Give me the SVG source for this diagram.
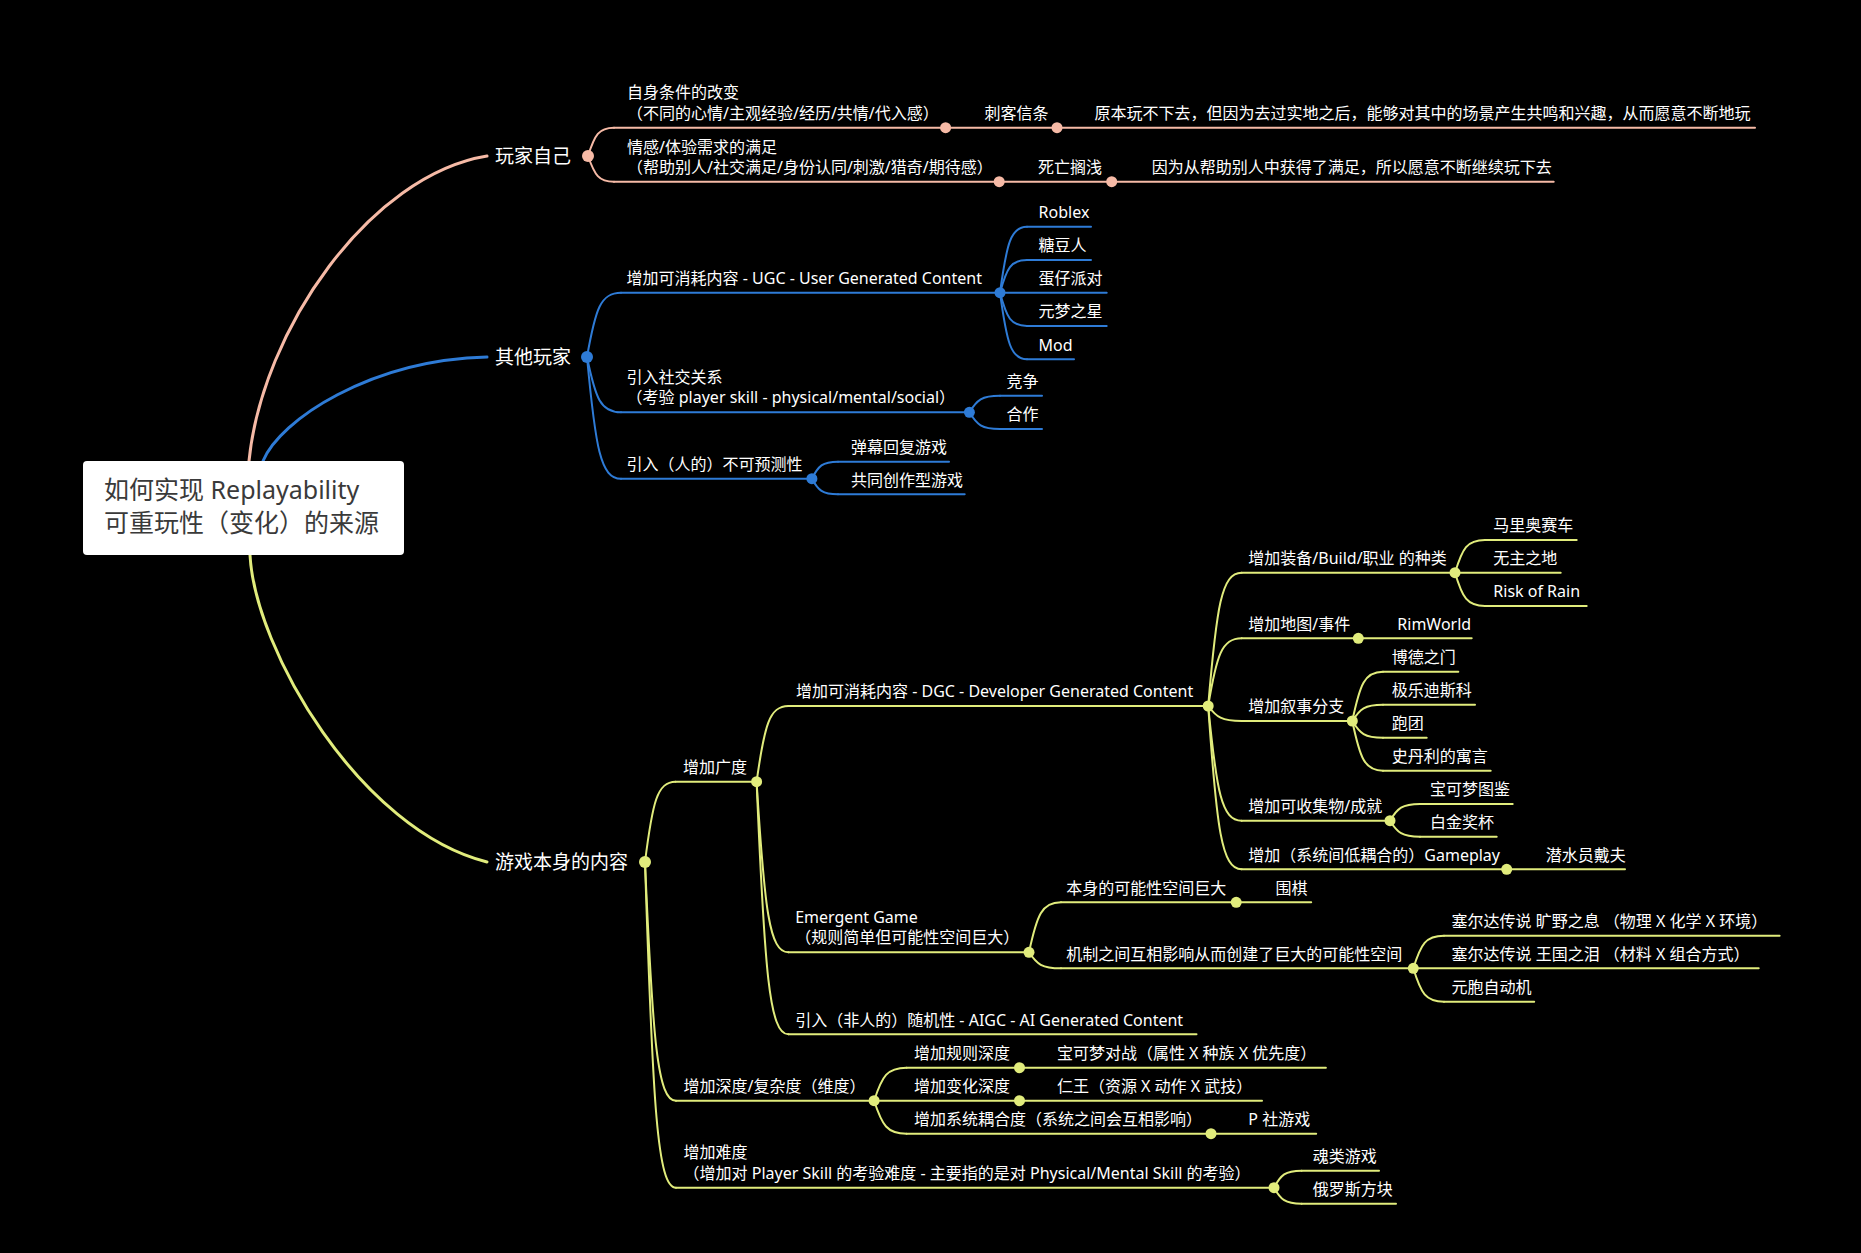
<svg xmlns="http://www.w3.org/2000/svg" width="1861" height="1253" viewBox="0 0 1861 1253">
<style>
text{font-family:"Noto Sans","Noto Sans CJK SC",sans-serif;fill:#ffffff;font-size:16px}
.tm{font-size:19px}
.tr{font-size:25px;fill:#3a3a3a}
path{fill:none;stroke-width:2;stroke-linecap:round}
.pk{stroke:#F6BAA6}
.bl{stroke:#2E7BD6}
.yl{stroke:#E1EC7C}
.main{stroke-width:3}
.dpk{fill:#F6BAA6}
.dbl{fill:#2E7BD6}
.dyl{fill:#E1EC7C}
</style>
<rect width="1861" height="1253" fill="#000000"/>

<g id="connectors">
<path class="pk main" d="M249 461 C262 330,370 175,487 156"/>
<path class="bl main" d="M263 461 C280 420,370 360,487 357"/>
<path class="yl main" d="M250 555 C255 650,360 830,487 862"/>

<path class="pk" d="M588 156 C594.75 134.8,598.8 127.7,614 127.7"/>
<path class="pk" d="M588 156 C594.75 175.3,598.8 181.7,614 181.7"/>

<path class="bl" d="M587 357 C595.5 308.8,600.6 292.7,621 292.7"/>
<path class="bl" d="M587 357 C595.5 398.5,600.6 412.3,621 412.3"/>
<path class="bl" d="M587 357 C595.5 448.3,600.6 478.7,621 478.7"/>
<path class="bl" d="M1000 292.7 C1006.75 243.2,1010.8 226.7,1027 226.7"/>
<path class="bl" d="M1000 292.7 C1006.75 268.2,1010.8 260,1027 260"/>
<path class="bl" d="M1000 292.7 C1006.75 317.7,1010.8 326,1027 326"/>
<path class="bl" d="M1000 292.7 C1006.75 342.65,1010.8 359.3,1027 359.3"/>
<path class="bl" d="M969.4 412.3 C977.05 399.85,981.6 395.7,1000 395.7"/>
<path class="bl" d="M969.4 412.3 C977.05 424.8,981.6 429,1000 429"/>
<path class="bl" d="M811.9 478.7 C818.4 465.95,822.3 461.7,838 461.7"/>
<path class="bl" d="M811.9 478.7 C818.4 490.4,822.3 494.3,838 494.3"/>

<path class="yl" d="M645 862 C652.6 801.8,657.2 781.7,675.5 781.7"/>
<path class="yl" d="M645 862 C652.75 1041,657.4 1100.7,676 1100.7"/>
<path class="yl" d="M645 862 C652.75 1106.3,657.4 1187.7,676 1187.7"/>
<path class="yl" d="M756.6 781.7 C764.55 724.9,769.3 706,788.4 706"/>
<path class="yl" d="M756.6 781.7 C764.55 909.65,769.3 952.3,788.4 952.3"/>
<path class="yl" d="M756.6 781.7 C764.55 971.15,769.3 1034.3,788.4 1034.3"/>
<path class="yl" d="M1208.2 706 C1216.6 606,1221.6 572.7,1241.7 572.7"/>
<path class="yl" d="M1208.2 706 C1216.6 655.2,1221.6 638.3,1241.7 638.3"/>
<path class="yl" d="M1208.2 706 C1216.6 717.25,1221.6 721,1241.7 721"/>
<path class="yl" d="M1208.2 706 C1216.6 792,1221.6 820.7,1241.7 820.7"/>
<path class="yl" d="M1208.2 706 C1216.6 828.5,1221.6 869.3,1241.7 869.3"/>
<path class="yl" d="M1455 572.7 C1462.5 548.2,1467 540,1485 540"/>
<path class="yl" d="M1455 572.7 C1462.5 597.7,1467 606,1485 606"/>
<path class="yl" d="M1352.3 721 C1360 684,1364.6 671.7,1383 671.7"/>
<path class="yl" d="M1352.3 721 C1360 708.8,1364.6 704.7,1383 704.7"/>
<path class="yl" d="M1352.3 721 C1360 733.5,1364.6 737.7,1383 737.7"/>
<path class="yl" d="M1352.3 721 C1360 758.3,1364.6 770.7,1383 770.7"/>
<path class="yl" d="M1390 820.7 C1397.5 808.2,1402 804,1420 804"/>
<path class="yl" d="M1390 820.7 C1397.5 832.7,1402 836.7,1420 836.7"/>
<path class="yl" d="M1029 952.3 C1037 914.8,1041.8 902.3,1061 902.3"/>
<path class="yl" d="M1029 952.3 C1037 964.3,1041.8 968.3,1061 968.3"/>
<path class="yl" d="M1413.3 968.3 C1421 943.85,1425.6 935.7,1444 935.7"/>
<path class="yl" d="M1413.3 968.3 C1421 993.35,1425.6 1001.7,1444 1001.7"/>
<path class="yl" d="M874.1 1100.7 C882.2 1075.95,887.1 1067.7,906.6 1067.7"/>
<path class="yl" d="M874.1 1100.7 C882.2 1125.45,887.1 1133.7,906.6 1133.7"/>
<path class="yl" d="M1274 1187.7 C1280.9 1174.95,1285 1170.7,1301.6 1170.7"/>
<path class="yl" d="M1274 1187.7 C1280.9 1199.7,1285 1203.7,1301.6 1203.7"/>
</g>

<g id="root">
<rect x="83" y="461" width="321" height="94" rx="4" fill="#ffffff"/>
<text class="tr" x="104" y="499">如何实现 Replayability</text>
<text class="tr" x="104" y="532">可重玩性（变化）的来源</text>
</g>

<!-- pink branch -->
<g id="n-player">
<text class="tm" x="495" y="163">玩家自己</text>
<circle class="dpk" cx="588" cy="156" r="6"/>
</g>
<g id="n-p1">
<path class="pk" d="M614 127.7 H945.6"/>
<text x="627" y="98">自身条件的改变</text>
<text x="627" y="118.7">（不同的心情/主观经验/经历/共情/代入感）</text>
<circle class="dpk" cx="945.6" cy="127.7" r="5.5"/>
</g>
<g id="n-p1a">
<path class="pk" d="M945.6 127.7 H1057"/>
<text x="984.5" y="119">刺客信条</text>
<circle class="dpk" cx="1057" cy="127.7" r="5.5"/>
</g>
<g id="n-p1b">
<path class="pk" d="M1057 127.7 H1755"/>
<text x="1094.5" y="119">原本玩不下去，但因为去过实地之后，能够对其中的场景产生共鸣和兴趣，从而愿意不断地玩</text>
</g>
<g id="n-p2">
<path class="pk" d="M614 181.7 H999.2"/>
<text x="627" y="152.5">情感/体验需求的满足</text>
<text x="627" y="173">（帮助别人/社交满足/身份认同/刺激/猎奇/期待感）</text>
<circle class="dpk" cx="999.2" cy="181.7" r="5.5"/>
</g>
<g id="n-p2a">
<path class="pk" d="M999.2 181.7 H1111.7"/>
<text x="1038" y="173">死亡搁浅</text>
<circle class="dpk" cx="1111.7" cy="181.7" r="5.5"/>
</g>
<g id="n-p2b">
<path class="pk" d="M1111.7 181.7 H1553.7"/>
<text x="1151.7" y="173">因为从帮助别人中获得了满足，所以愿意不断继续玩下去</text>
</g>

<!-- blue branch -->
<g id="n-other">
<text class="tm" x="495" y="364">其他玩家</text>
<circle class="dbl" cx="587" cy="357" r="6"/>
</g>
<g id="n-ugc">
<path class="bl" d="M621 292.7 H1000"/>
<text x="626.6" y="284">增加可消耗内容 - UGC - User Generated Content</text>
<circle class="dbl" cx="1000" cy="292.7" r="5.5"/>
</g>
<g id="n-roblex">
<path class="bl" d="M1027 226.7 H1091"/>
<text x="1038.6" y="218">Roblex</text>
</g>
<g id="n-tangdou">
<path class="bl" d="M1027 260 H1091"/>
<text x="1038.6" y="251.3">糖豆人</text>
</g>
<g id="n-danzai">
<path class="bl" d="M1000 292.7 H1106.7"/>
<text x="1038.6" y="284">蛋仔派对</text>
</g>
<g id="n-yuanmeng">
<path class="bl" d="M1027 326 H1106.7"/>
<text x="1038.6" y="317.3">元梦之星</text>
</g>
<g id="n-mod">
<path class="bl" d="M1027 359.3 H1074"/>
<text x="1038.6" y="350.6">Mod</text>
</g>
<g id="n-social">
<path class="bl" d="M621 412.3 H969.4"/>
<text x="626.6" y="382.7">引入社交关系</text>
<text x="626.6" y="403.3">（考验 player skill - physical/mental/social）</text>
<circle class="dbl" cx="969.4" cy="412.3" r="5.5"/>
</g>
<g id="n-compete">
<path class="bl" d="M1000 395.7 H1042"/>
<text x="1006.6" y="387">竞争</text>
</g>
<g id="n-coop">
<path class="bl" d="M1000 429 H1042"/>
<text x="1006.6" y="420.3">合作</text>
</g>
<g id="n-unpredict">
<path class="bl" d="M621 478.7 H811.9"/>
<text x="626.6" y="470">引入（人的）不可预测性</text>
<circle class="dbl" cx="811.9" cy="478.7" r="5.5"/>
</g>
<g id="n-danmu">
<path class="bl" d="M838 461.7 H949"/>
<text x="851" y="453">弹幕回复游戏</text>
</g>
<g id="n-cocreate">
<path class="bl" d="M838 494.3 H964.7"/>
<text x="851" y="485.6">共同创作型游戏</text>
</g>

<!-- yellow branch -->
<g id="n-game">
<text class="tm" x="495" y="869">游戏本身的内容</text>
<circle class="dyl" cx="645" cy="862" r="6"/>
</g>
<g id="n-breadth">
<path class="yl" d="M675.5 781.7 H756.6"/>
<text x="683" y="773">增加广度</text>
<circle class="dyl" cx="756.6" cy="781.7" r="5.5"/>
</g>
<g id="n-dgc">
<path class="yl" d="M788.4 706 H1208.2"/>
<text x="796" y="697.3">增加可消耗内容 - DGC - Developer Generated Content</text>
<circle class="dyl" cx="1208.2" cy="706" r="5.5"/>
</g>
<g id="n-equip">
<path class="yl" d="M1241.7 572.7 H1455"/>
<text x="1248.3" y="564">增加装备/Build/职业 的种类</text>
<circle class="dyl" cx="1455" cy="572.7" r="5.5"/>
</g>
<g id="n-mario">
<path class="yl" d="M1485 540 H1576.7"/>
<text x="1493.3" y="531.3">马里奥赛车</text>
</g>
<g id="n-borderlands">
<path class="yl" d="M1455 572.7 H1560.7"/>
<text x="1493.3" y="564">无主之地</text>
</g>
<g id="n-risk">
<path class="yl" d="M1485 606 H1586.7"/>
<text x="1493.3" y="597.3">Risk of Rain</text>
</g>
<g id="n-map">
<path class="yl" d="M1241.7 638.3 H1358.3"/>
<text x="1248.3" y="629.6">增加地图/事件</text>
<circle class="dyl" cx="1358.3" cy="638.3" r="5.5"/>
</g>
<g id="n-rimworld">
<path class="yl" d="M1358.3 638.3 H1471.7"/>
<text x="1397.3" y="629.6">RimWorld</text>
</g>
<g id="n-narrative">
<path class="yl" d="M1241.7 721 H1352.3"/>
<text x="1248.3" y="712.3">增加叙事分支</text>
<circle class="dyl" cx="1352.3" cy="721" r="5.5"/>
</g>
<g id="n-bg3">
<path class="yl" d="M1383 671.7 H1458.3"/>
<text x="1391.7" y="663">博德之门</text>
</g>
<g id="n-disco">
<path class="yl" d="M1383 704.7 H1475"/>
<text x="1391.7" y="696">极乐迪斯科</text>
</g>
<g id="n-trpg">
<path class="yl" d="M1383 737.7 H1426.7"/>
<text x="1391.7" y="729">跑团</text>
</g>
<g id="n-stanley">
<path class="yl" d="M1383 770.7 H1490.7"/>
<text x="1391.7" y="762">史丹利的寓言</text>
</g>
<g id="n-collect">
<path class="yl" d="M1241.7 820.7 H1390"/>
<text x="1248.3" y="812">增加可收集物/成就</text>
<circle class="dyl" cx="1390" cy="820.7" r="5.5"/>
</g>
<g id="n-pokedex">
<path class="yl" d="M1420 804 H1512.7"/>
<text x="1430" y="795.3">宝可梦图鉴</text>
</g>
<g id="n-trophy">
<path class="yl" d="M1420 836.7 H1496.7"/>
<text x="1430" y="828">白金奖杯</text>
</g>
<g id="n-gameplay">
<path class="yl" d="M1241.7 869.3 H1506.7"/>
<text x="1248.3" y="860.6">增加（系统间低耦合的）Gameplay</text>
<circle class="dyl" cx="1506.7" cy="869.3" r="5.5"/>
</g>
<g id="n-dave">
<path class="yl" d="M1506.7 869.3 H1625"/>
<text x="1545.7" y="860.6">潜水员戴夫</text>
</g>
<g id="n-emergent">
<path class="yl" d="M788.4 952.3 H1029"/>
<text x="795.2" y="922.8">Emergent Game</text>
<text x="795.2" y="943.3">（规则简单但可能性空间巨大）</text>
<circle class="dyl" cx="1029" cy="952.3" r="5.5"/>
</g>
<g id="n-space">
<path class="yl" d="M1061 902.3 H1236.2"/>
<text x="1066.3" y="893.6">本身的可能性空间巨大</text>
<circle class="dyl" cx="1236.2" cy="902.3" r="5.5"/>
</g>
<g id="n-go">
<path class="yl" d="M1236.2 902.3 H1311.2"/>
<text x="1275.5" y="893.6">围棋</text>
</g>
<g id="n-mechanics">
<path class="yl" d="M1061 968.3 H1413.3"/>
<text x="1066.3" y="959.6">机制之间互相影响从而创建了巨大的可能性空间</text>
<circle class="dyl" cx="1413.3" cy="968.3" r="5.5"/>
</g>
<g id="n-botw">
<path class="yl" d="M1444 935.7 H1779.6"/>
<text x="1451.5" y="927">塞尔达传说 旷野之息 （物理 X 化学 X 环境）</text>
</g>
<g id="n-totk">
<path class="yl" d="M1413.3 968.3 H1758.7"/>
<text x="1451.5" y="959.6">塞尔达传说 王国之泪 （材料 X 组合方式）</text>
</g>
<g id="n-cellular">
<path class="yl" d="M1444 1001.7 H1534.2"/>
<text x="1451.5" y="993">元胞自动机</text>
</g>
<g id="n-aigc">
<path class="yl" d="M788.4 1034.3 H1196.5"/>
<text x="795.2" y="1025.6">引入（非人的）随机性 - AIGC - AI Generated Content</text>
</g>
<g id="n-depth">
<path class="yl" d="M676 1100.7 H874.1"/>
<text x="683.6" y="1092">增加深度/复杂度（维度）</text>
<circle class="dyl" cx="874.1" cy="1100.7" r="5.5"/>
</g>
<g id="n-rule">
<path class="yl" d="M906.6 1067.7 H1019.5"/>
<text x="913.9" y="1059">增加规则深度</text>
<circle class="dyl" cx="1019.5" cy="1067.7" r="5.5"/>
</g>
<g id="n-pkbattle">
<path class="yl" d="M1019.5 1067.7 H1325.9"/>
<text x="1056.9" y="1059">宝可梦对战（属性 X 种族 X 优先度）</text>
</g>
<g id="n-variation">
<path class="yl" d="M874.1 1100.7 H1019.5"/>
<text x="913.9" y="1092">增加变化深度</text>
<circle class="dyl" cx="1019.5" cy="1100.7" r="5.5"/>
</g>
<g id="n-nioh">
<path class="yl" d="M1019.5 1100.7 H1262"/>
<text x="1056.9" y="1092">仁王（资源 X 动作 X 武技）</text>
</g>
<g id="n-coupling">
<path class="yl" d="M906.6 1133.7 H1211"/>
<text x="913.9" y="1125">增加系统耦合度（系统之间会互相影响）</text>
<circle class="dyl" cx="1211" cy="1133.7" r="5.5"/>
</g>
<g id="n-paradox">
<path class="yl" d="M1211 1133.7 H1316.2"/>
<text x="1248.3" y="1125">P 社游戏</text>
</g>
<g id="n-difficulty">
<path class="yl" d="M676 1187.7 H1274"/>
<text x="683.6" y="1158.2">增加难度</text>
<text x="683.6" y="1178.7">（增加对 Player Skill 的考验难度 - 主要指的是对 Physical/Mental Skill 的考验）</text>
<circle class="dyl" cx="1274" cy="1187.7" r="5.5"/>
</g>
<g id="n-souls">
<path class="yl" d="M1301.6 1170.7 H1379"/>
<text x="1312.8" y="1162">魂类游戏</text>
</g>
<g id="n-tetris">
<path class="yl" d="M1301.6 1203.7 H1396"/>
<text x="1312.8" y="1195">俄罗斯方块</text>
</g>
</svg>
